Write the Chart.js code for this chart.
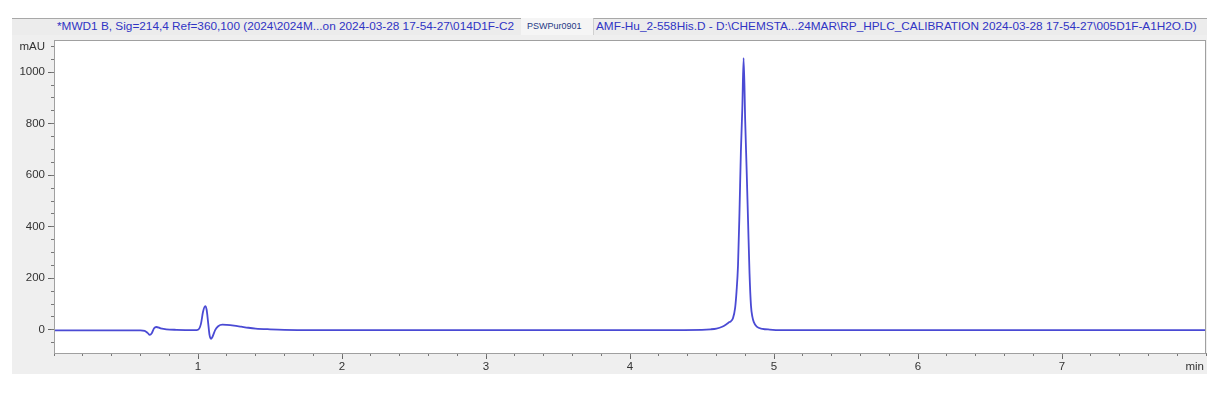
<!DOCTYPE html>
<html>
<head>
<meta charset="utf-8">
<script src="https://cdn.jsdelivr.net/npm/chart.js@4.4.1/dist/chart.umd.min.js"></script>
<style>
  body { margin: 0; background: #fff; }
  #wrap { position: relative; width: 1230px; height: 407px; }
  #wrap canvas { position: absolute; left: 0; top: 0; }
  .hdr { position: absolute; top: 18px; height: 17px; box-sizing: border-box; }
  .hdr span { position: absolute; top: 0; line-height: 17px; white-space: nowrap;
              font-family: "Liberation Sans", Arial, sans-serif; font-size: 11.8px; color: #3034c4; }
  #unitX { position: absolute; top: 360px; right: 26px; font-family: "Liberation Sans", Arial, sans-serif;
           font-size: 11.5px; color: #333; }
</style>
</head>
<body>
<div id="wrap">
  <canvas id="myChart"></canvas>
  <div class="hdr" style="left:12px; width:509px; background:#ececec; border-top:1px solid #a8a8a8;"></div>
  <div class="hdr" style="left:521px; width:72px; background:#f5f5f5;"></div>
  <div class="hdr" style="left:593px; width:614px; background:#ececec; border-top:1px solid #a8a8a8; border-left:1px solid #d0d0d0;"></div>
  <div class="hdr" style="left:0; width:1230px;">
    <span style="left:57px;">*MWD1 B, Sig=214,4 Ref=360,100 (2024\2024M...on 2024-03-28 17-54-27\014D1F-C2</span>
    <span style="left:527px; font-size:9px; color:#1f3a86;">PSWPur0901</span>
    <span style="left:596px;">AMF-Hu_2-558His.D - D:\CHEMSTA...24MAR\RP_HPLC_CALIBRATION 2024-03-28 17-54-27\005D1F-A1H2O.D)</span>
  </div>
  <div id="unitX">min</div>
</div>
<script>
// retention time (min) and detector signal (mAU)
const timeMin = [
  0, 0.3, 0.6, 0.63, 0.65, 0.665, 0.68, 0.695, 0.71, 0.74, 0.78, 0.85, 0.99,
  1.0, 1.02, 1.035, 1.05, 1.06, 1.07, 1.08, 1.09, 1.1, 1.12, 1.14, 1.17, 1.2, 1.25, 1.3, 1.35, 1.4, 1.5, 1.6, 1.8,
  2.5, 3.5, 4.2, 4.5, 4.56, 4.6, 4.64, 4.67, 4.69, 4.7, 4.715, 4.73, 4.74, 4.75, 4.76, 4.77, 4.78, 4.789,
  4.8, 4.81, 4.82, 4.83, 4.84, 4.85, 4.86, 4.88, 4.92, 4.97, 5.05, 6, 7, 8
];
const signal = [
  -2, -2, -2, -4, -12, -20, -12, 6, 11, 6, 2, 0, -1,
  0, 22, 70, 92, 78, 30, -20, -35, -28, 0, 14, 20, 19, 16, 12, 8, 5, 2, 0, -1,
  -1, -1, -1, 0, 2, 5, 12, 22, 30, 33, 45, 85, 150, 250, 450, 690, 860, 1055,
  810, 620, 420, 220, 95, 50, 30, 12, 4, 1, -1, -1, -1, -1
];

// axis settings
const yMin = -90, yMax = 1125, yStep = 50, yMajor = 200;
const xMin = 0, xMax = 8, xStep = 0.2;

const points = timeMin.map((t, i) => ({ x: t, y: signal[i] }));
const tickFont = { family: 'Liberation Sans, Arial, sans-serif', size: 11.5 };

const isInt = v => Math.abs(v - Math.round(v)) < 1e-6;

// gray panel + white plot area + frame
const panelPlugin = {
  id: 'panel',
  beforeDraw(chart) {
    const { ctx, chartArea: a } = chart;
    ctx.save();
    ctx.fillStyle = '#efefef';
    ctx.fillRect(12, 35, 1195, 339);
    ctx.fillStyle = '#ffffff';
    ctx.fillRect(a.left, a.top, a.right - a.left, a.bottom - a.top);
    ctx.restore();
  },
  afterDraw(chart) {
    const { ctx, chartArea: a } = chart;
    ctx.save();
    ctx.strokeStyle = '#a0a0a0';
    ctx.lineWidth = 1;
    ctx.strokeRect(a.left + 0.5, a.top + 0.5, a.right - a.left - 1, a.bottom - a.top);
    ctx.restore();
  }
};

new Chart(document.getElementById('myChart'), {
  type: 'line',
  data: {
    datasets: [{
      data: points,
      borderColor: '#4a4ad4',
      borderWidth: 1.8,
      pointRadius: 0,
      fill: false,
      cubicInterpolationMode: 'monotone'
    }]
  },
  options: {
    responsive: true,
    maintainAspectRatio: false,
    animation: false,
    layout: { padding: { left: 12, right: 24, top: 40, bottom: 33 } },
    plugins: { legend: { display: false }, tooltip: { enabled: false } },
    scales: {
      x: {
        type: 'linear', position: 'bottom', weight: 1,
        min: xMin, max: xMax,
        afterFit: s => { s.height = 21; },
        grid: {
          drawOnChartArea: false, tickLength: 6,
          tickColor: c => (isInt(c.tick.value) && c.tick.value > 0 && c.tick.value < 8) ? '#666' : 'transparent'
        },
        border: { display: true, color: '#8a8a8a' },
        ticks: {
          stepSize: xStep, autoSkip: false, maxRotation: 0, includeBounds: false,
          padding: 1, color: '#333', font: tickFont,
          callback: v => (isInt(v) && v > 0 && v < 8) ? String(Math.round(v)) : ''
        }
      },
      xMinor: {
        type: 'linear', position: 'bottom', weight: 0,
        min: xMin, max: xMax,
        afterFit: s => { s.height = 0; },
        grid: { drawOnChartArea: false, tickLength: 3, tickColor: '#777' },
        border: { display: false },
        ticks: { stepSize: xStep, autoSkip: false, display: false, includeBounds: false }
      },
      y: {
        type: 'linear', position: 'left', weight: 1,
        min: yMin, max: yMax,
        afterFit: s => { s.width = 42; },
        grid: {
          drawOnChartArea: false, tickLength: 6,
          tickColor: c => (c.tick.value % yMajor === 0) ? '#666' : 'transparent'
        },
        border: { display: true, color: '#8a8a8a' },
        ticks: {
          stepSize: yStep, autoSkip: false, includeBounds: false,
          padding: 3, color: '#333', font: tickFont,
          callback: v => v === 1100 ? 'mAU' : (v % yMajor === 0 ? String(v) : '')
        }
      },
      yMinor: {
        type: 'linear', position: 'left', weight: 0,
        min: yMin, max: yMax,
        afterFit: s => { s.width = 0; },
        grid: { drawOnChartArea: false, tickLength: 3, tickColor: '#777' },
        border: { display: false },
        ticks: { stepSize: yStep, autoSkip: false, display: false, includeBounds: false }
      }
    }
  },
  plugins: [panelPlugin]
});
</script>
</body>
</html>
